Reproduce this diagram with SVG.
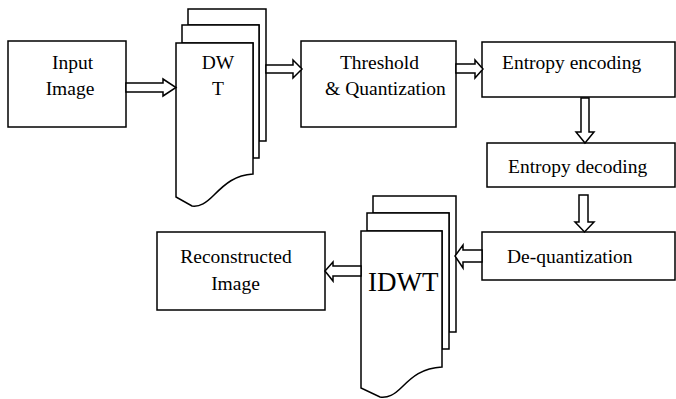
<svg xmlns="http://www.w3.org/2000/svg" width="676" height="399" viewBox="0 0 676 399" font-family="'Liberation Serif', serif">
<style>
.s{fill:#fff;stroke:#000;stroke-width:1.5;stroke-linejoin:miter}
text{font-family:'Liberation Serif',serif;font-size:19.5px;fill:#000}
.m{text-anchor:middle}
</style>
<rect width="676" height="399" fill="#fff"/>
<g id="input"><rect class="s" x="8" y="41" width="118" height="86"/>
<text class="m" x="72.5" y="69">Input</text><text class="m" x="70" y="95">Image</text></g>
<g id="dwt">
<path class="s" d="M188,25 L188,9 L266,9 L266,141 L259,141 L259,25 Z"/>
<path class="s" d="M182,43 L182,25 L259,25 L259,158 L253,158 L253,43 Z"/>
<path class="s" d="M176,43 L253,43 L253,174 C235,175 225,184 214,195 C206,203 200,207 192,206 L176,197 Z"/>
<text class="m" x="218" y="69">DW</text><text class="m" x="218" y="95">T</text></g>
<g id="threshold"><rect class="s" x="301" y="41" width="155" height="86"/>
<text class="m" x="379.5" y="69">Threshold</text><text class="m" x="385.5" y="95">&amp; Quantization</text></g>
<g id="enc"><rect class="s" x="482" y="42" width="193" height="55"/>
<text x="502" y="69">Entropy encoding</text></g>
<g id="dec"><rect class="s" x="487" y="143" width="188" height="44"/>
<text x="508" y="173">Entropy decoding</text></g>
<g id="deq"><rect class="s" x="482" y="232" width="193" height="48"/>
<text x="507" y="263">De-quantization</text></g>
<g id="idwt">
<path class="s" d="M373,213 L373,196 L456,196 L456,332 L449,332 L449,213 Z"/>
<path class="s" d="M367,231 L367,213 L449,213 L449,349 L442,349 L442,231 Z"/>
<path class="s" d="M361,231 L442,231 L442,367 C422,368 412,377 402,387 C394,395 388,398 380,397 L361,388 Z"/>
<text x="368" y="291" style="font-size:27px">IDWT</text></g>
<g id="recon"><rect class="s" x="157" y="232" width="168" height="78"/>
<text class="m" x="236" y="263">Reconstructed</text><text class="m" x="235.5" y="290">Image</text></g>
<g id="connectors">
<polygon class="s" points="126,83 163,83 163,79 176,87.5 163,96 163,92 126,92"/>
<polygon class="s" points="266,65 293,65 293,60 302,69 293,78 293,73 266,73"/>
<polygon class="s" points="456,64 475,64 475,60 483,69 475,78 475,73 456,73"/>
<polygon class="s" points="581,98 589,98 589,132 594,132 585,143 576,132 581,132"/>
<polygon class="s" points="579,195 588,195 588,222 594,222 584.5,232 575,222 579,222"/>
<polygon class="s" points="482,250 463,250 463,245 455,256 463,268 463,262 482,262"/>
<polygon class="s" points="361,266 333,266 333,262 325,271 333,281 333,276 361,276"/>
</g>
</svg>
